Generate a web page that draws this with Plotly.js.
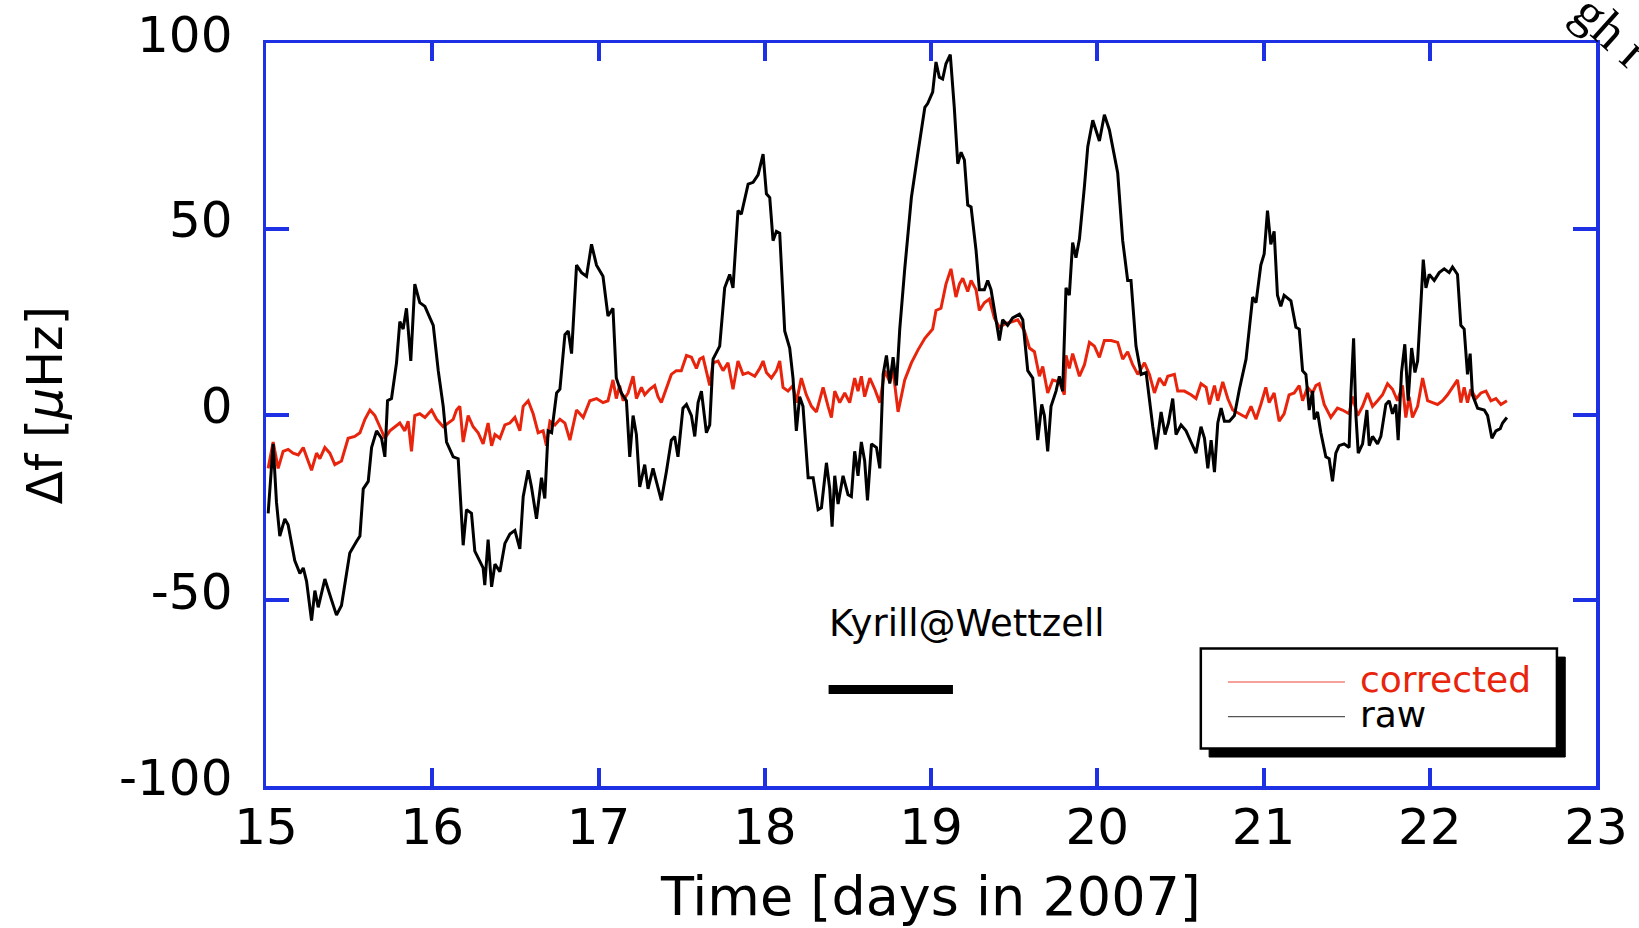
<!DOCTYPE html>
<html>
<head>
<meta charset="utf-8">
<script src="https://cdn.plot.ly/plotly-3.0.1.min.js"></script>
<style>
html,body{margin:0;padding:0;background:#fff;}
#chart{width:1639px;height:928px;}
</style>
</head>
<body>
<div id="chart"></div>
<script>
// ---- data (time in days of 2007, frequency offset in microHz) ----
const rawX = [15.013,15.043,15.063,15.083,15.113,15.133,15.173,15.204,15.224,15.244,15.274,15.294,15.314,15.354,15.394,15.424,15.454,15.504,15.544,15.565,15.585,15.615,15.635,15.665,15.695,15.715,15.731,15.755,15.785,15.805,15.825,15.845,15.871,15.895,15.925,15.956,15.986,16.006,16.036,16.066,16.086,16.126,16.156,16.186,16.206,16.236,16.256,16.306,16.316,16.336,16.357,16.377,16.407,16.437,16.467,16.497,16.527,16.547,16.577,16.597,16.627,16.657,16.677,16.697,16.718,16.748,16.768,16.798,16.818,16.838,16.868,16.898,16.928,16.958,16.988,
17.027,17.057,17.087,17.107,17.137,17.168,17.188,17.208,17.228,17.248,17.278,17.298,17.328,17.348,17.378,17.408,17.438,17.458,17.478,17.508,17.529,17.559,17.579,17.599,17.619,17.649,17.669,17.689,17.729,17.759,17.789,17.809,17.839,17.859,17.900,17.930,17.960,17.990,18.010,18.030,18.050,18.070,18.090,18.120,18.150,18.170,18.190,18.210,18.230,18.261,18.291,18.321,18.341,18.371,18.391,18.405,18.421,18.441,18.471,18.501,18.521,18.541,18.561,18.581,18.601,18.618,18.642,18.672,18.692,18.712,18.732,18.752,18.772,18.792,18.812,18.842,18.882,18.922,18.963,
18.980,19.010,19.030,19.050,19.070,19.090,19.116,19.140,19.161,19.181,19.201,19.221,19.241,19.271,19.291,19.321,19.341,19.361,19.391,19.411,19.431,19.461,19.491,19.532,19.552,19.582,19.612,19.642,19.666,19.682,19.702,19.722,19.752,19.772,19.792,19.812,19.832,19.852,19.872,19.893,19.923,19.943,19.973,20.013,20.043,20.073,20.123,20.153,20.183,20.203,20.233,20.264,20.294,20.314,20.334,20.354,20.384,20.408,20.428,20.454,20.474,20.504,20.534,20.564,20.594,20.624,20.645,20.665,20.685,20.705,20.725,20.745,20.765,20.795,20.825,20.855,20.895,20.935,20.955,
20.984,21.004,21.024,21.044,21.064,21.084,21.104,21.124,21.165,21.195,21.215,21.235,21.255,21.275,21.295,21.305,21.325,21.345,21.375,21.395,21.415,21.435,21.455,21.485,21.515,21.526,21.542,21.556,21.570,21.596,21.622,21.636,21.656,21.686,21.706,21.736,21.756,21.776,21.796,21.810,21.830,21.850,21.870,21.891,21.911,21.927,21.947,21.961,21.977,21.997,22.027,22.057,22.087,22.117,22.137,22.167,22.187,22.207,22.227,22.243,22.257,22.288,22.328,22.348,22.374,22.398,22.424,22.438,22.464];
const rawY = [-26.6,-7.9,-23.6,-32.7,-28.1,-29.7,-39.3,-42.8,-41.3,-44.9,-55.5,-47.4,-51.9,-44.3,-49.9,-54.0,-51.4,-37.3,-34.2,-32.7,-20.0,-18.0,-8.9,-4.4,-6.4,-11.4,3.7,4.3,13.9,25.0,23.0,28.6,14.4,35.1,30.1,29.1,26.0,24.0,11.8,2.2,-7.4,-11.4,-11.9,-35.2,-25.6,-26.6,-36.8,-41.3,-45.9,-33.7,-46.4,-40.3,-42.3,-34.7,-32.2,-31.2,-36.2,-22.1,-15.0,-19.5,-28.1,-17.0,-22.6,-4.4,-4.9,5.8,6.8,21.5,22.5,16.4,40.2,38.2,37.2,45.8,40.2,
37.2,26.5,28.6,9.8,5.8,3.7,-11.4,-0.3,-5.4,-19.5,-13.5,-20.0,-14.5,-18.0,-23.1,-15.5,-6.9,-5.9,-11.4,1.7,2.7,-0.3,-5.9,3.2,6.3,-4.9,-2.8,14.9,18.4,34.1,37.7,34.1,54.9,53.9,62.0,62.5,64.5,70.1,59.4,58.4,46.8,49.3,48.8,22.5,17.9,9.8,-4.4,4.8,2.2,-17.0,-17.0,-25.6,-25.1,-13.0,-20.0,-30.2,-16.5,-24.1,-16.5,-21.6,-22.1,-9.9,-16.5,-7.4,-12.5,-23.1,-7.9,-8.9,-14.5,10.8,15.9,8.3,15.4,7.8,23.0,39.2,58.4,70.6,82.7,
83.7,86.8,94.9,90.8,90.3,94.4,96.9,82.7,67.5,70.6,68.5,56.4,55.9,44.2,33.6,33.6,36.1,33.6,25.5,19.9,25.5,24.0,26.0,27.0,25.5,11.8,9.8,-6.9,2.7,-0.3,-9.9,2.2,6.3,10.3,6.3,34.1,32.1,46.3,42.2,47.3,61.5,72.1,79.2,73.6,80.7,76.6,65.0,46.8,36.1,36.1,18.4,10.8,11.3,3.2,-3.3,-9.4,0.7,-5.4,-2.3,4.3,-5.4,-2.8,-4.4,-7.4,-10.4,-3.3,-6.4,-14.5,-6.9,-15.5,-2.3,1.7,-1.8,-1.8,-0.3,6.8,14.9,31.6,30.1,
40.2,43.2,54.9,45.8,49.3,32.1,29.1,32.1,30.6,23.5,23.0,11.8,10.8,1.2,6.3,-1.3,0.7,-4.9,-11.4,-11.9,-18.0,-10.4,-8.4,-7.9,-8.9,5.8,20.5,-0.3,-10.4,-7.9,1.2,-8.4,-5.9,-7.9,-5.9,2.7,3.7,0.2,2.7,-6.9,11.3,18.9,3.7,17.9,11.3,14.4,30.1,41.7,34.1,37.7,36.1,38.2,39.2,38.2,39.7,37.7,24.0,23.0,10.8,16.4,5.3,1.7,1.2,-0.3,-6.4,-4.4,-3.8,-2.3,-0.8];

const corrX = [15.013,15.043,15.073,15.103,15.133,15.163,15.194,15.224,15.244,15.274,15.304,15.324,15.354,15.384,15.414,15.454,15.494,15.534,15.565,15.595,15.625,15.655,15.685,15.715,15.745,15.775,15.805,15.835,15.855,15.875,15.895,15.925,15.956,15.996,16.026,16.066,16.096,16.126,16.146,16.166,16.186,16.216,16.246,16.276,16.306,16.336,16.357,16.377,16.407,16.437,16.467,16.497,16.527,16.547,16.577,16.607,16.637,16.667,16.687,16.708,16.738,16.768,16.798,16.828,16.868,16.908,16.948,16.988,
17.027,17.057,17.087,17.107,17.127,17.148,17.178,17.208,17.228,17.258,17.278,17.308,17.338,17.358,17.378,17.408,17.438,17.468,17.498,17.529,17.559,17.589,17.609,17.629,17.649,17.669,17.689,17.719,17.749,17.779,17.809,17.839,17.869,17.900,17.940,17.970,17.990,18.010,18.040,18.070,18.090,18.110,18.140,18.170,18.190,18.220,18.250,18.281,18.311,18.351,18.381,18.401,18.421,18.451,18.481,18.511,18.541,18.561,18.581,18.601,18.632,18.662,18.692,18.722,18.752,18.772,18.802,18.842,18.882,18.922,18.963,
18.980,19.010,19.030,19.060,19.090,19.120,19.150,19.171,19.191,19.221,19.241,19.271,19.291,19.321,19.351,19.381,19.411,19.451,19.491,19.522,19.562,19.592,19.622,19.652,19.672,19.702,19.732,19.772,19.802,19.812,19.832,19.852,19.893,19.923,19.953,19.983,20.013,20.043,20.083,20.123,20.153,20.183,20.213,20.244,20.284,20.314,20.344,20.374,20.404,20.424,20.464,20.484,20.524,20.564,20.594,20.624,20.655,20.675,20.705,20.725,20.755,20.785,20.815,20.855,20.895,20.925,20.955,
20.984,21.014,21.034,21.064,21.094,21.124,21.154,21.185,21.215,21.235,21.265,21.295,21.315,21.335,21.365,21.405,21.445,21.475,21.515,21.536,21.566,21.596,21.626,21.656,21.686,21.716,21.746,21.776,21.806,21.836,21.856,21.876,21.896,21.927,21.957,21.987,22.017,22.047,22.077,22.107,22.137,22.167,22.187,22.207,22.227,22.247,22.278,22.308,22.338,22.368,22.398,22.428,22.464];
const corrY = [-14.5,-7.4,-14.5,-9.9,-9.4,-10.4,-10.9,-8.9,-11.4,-15.0,-10.4,-11.9,-8.9,-10.4,-13.5,-12.5,-6.4,-5.9,-4.9,-1.3,1.2,-0.3,-3.3,-6.4,-4.4,-3.3,-2.3,-4.4,-1.8,-9.9,-0.3,0.2,-0.8,1.2,-1.3,-3.3,-2.3,-1.3,1.2,2.2,-7.4,-0.3,-3.3,-4.9,-7.9,-2.3,-8.4,-5.4,-6.4,-2.8,-2.3,-0.8,-4.4,2.2,3.7,0.2,-4.9,-4.4,-8.4,-1.8,-2.8,-1.3,-2.3,-6.9,1.2,-0.8,3.7,4.3,
3.2,3.7,9.3,4.3,7.8,3.7,5.8,10.3,4.3,7.3,5.3,6.8,7.8,4.8,3.2,7.3,10.8,11.8,11.8,15.9,15.4,12.4,14.9,15.4,11.3,7.8,13.9,14.4,11.8,13.9,6.8,14.4,10.8,11.3,10.3,12.4,14.4,11.3,9.8,11.8,14.4,7.3,6.3,7.8,3.2,9.8,5.3,2.2,0.7,7.3,2.2,-0.8,6.3,3.2,5.8,3.2,9.8,6.3,10.3,4.8,9.8,6.8,3.2,11.8,8.8,11.8,0.7,9.3,13.9,17.4,20.5,
21.5,23.0,28.0,28.6,35.1,39.2,31.6,35.1,36.7,33.1,36.1,33.6,28.0,30.1,31.1,26.0,23.5,24.5,25.0,25.5,22.5,17.9,16.9,10.3,12.9,5.8,9.3,8.8,5.3,15.9,12.4,16.4,10.3,13.4,19.4,18.4,15.4,19.9,19.9,19.4,14.9,16.9,13.4,10.8,13.9,10.8,5.8,9.8,7.8,10.3,10.8,6.3,6.3,5.3,4.3,8.3,7.3,2.7,7.8,3.7,8.8,4.3,1.2,0.2,-0.8,2.2,-1.3,
2.7,7.3,3.2,5.8,-1.8,0.2,5.3,5.8,7.8,3.7,7.3,5.8,7.8,8.3,2.7,-0.8,1.7,1.2,0.2,4.8,-0.3,2.2,5.8,2.2,3.7,5.3,8.3,6.8,3.7,7.8,-0.8,4.8,-0.8,2.2,9.8,3.7,3.2,2.7,3.7,5.3,7.3,9.3,3.2,7.3,3.2,6.8,4.3,5.8,6.3,3.7,4.3,2.7,3.7];

// scale bar below the station label
const barX = [18.384, 19.132];
const barY = [-74, -74];

const seriesNames = ['corrected', 'raw'];
const xTicks = [15,16,17,18,19,20,21,22,23];
const yTicks = [-100,-50,0,50,100];

const BLUE = 'rgb(30,48,228)';
const RED = 'rgb(232,36,12)';
const FONT = 'DejaVu Sans, Liberation Sans, Arial, sans-serif';

const traces = [
  {x: corrX, y: corrY, type: 'scatter', mode: 'lines', name: seriesNames[0],
   line: {color: RED, width: 3}, showlegend: false, hoverinfo: 'skip'},
  {x: rawX, y: rawY, type: 'scatter', mode: 'lines', name: seriesNames[1],
   line: {color: '#000', width: 3}, showlegend: false, hoverinfo: 'skip'},
  {x: barX, y: barY, type: 'scatter', mode: 'lines', line: {color: '#000', width: 9},
   showlegend: false, hoverinfo: 'skip'}
];

// hand-made legend box (with drop shadow) in data coordinates
const lg = {x0: 20.623, x1: 22.765, y0: -63.0, y1: -89.9, dx: 0.05, dy: 2.3};
const shapes = [
  {type: 'rect', xref: 'x', yref: 'y', x0: lg.x0 + lg.dx, x1: lg.x1 + lg.dx, y0: lg.y0 - lg.dy, y1: lg.y1 - lg.dy,
   fillcolor: '#000', line: {color: '#000', width: 1}},
  {type: 'rect', xref: 'x', yref: 'y', x0: lg.x0, x1: lg.x1, y0: lg.y0, y1: lg.y1,
   fillcolor: '#fff', line: {color: '#000', width: 2.5}},
  {type: 'line', xref: 'x', yref: 'y', x0: 20.786, x1: 21.49, y0: -72.0, y1: -72.0,
   line: {color: 'rgb(245,130,120)', width: 1.3}},
  {type: 'line', xref: 'x', yref: 'y', x0: 20.786, x1: 21.49, y0: -81.3, y1: -81.3,
   line: {color: '#555', width: 1.3}}
];

const annotations = [
  {xref: 'x', yref: 'y', x: 21.57, y: -71.4, xanchor: 'left', yanchor: 'middle', showarrow: false,
   text: seriesNames[0], font: {family: FONT, size: 36, color: RED}},
  {xref: 'x', yref: 'y', x: 21.57, y: -80.8, xanchor: 'left', yanchor: 'middle', showarrow: false,
   text: seriesNames[1], font: {family: FONT, size: 36, color: '#000'}},
  {xref: 'x', yref: 'y', x: 19.214, y: -56.3, xanchor: 'center', yanchor: 'middle', showarrow: false,
   text: 'Kyrill@Wettzell', font: {family: FONT, size: 37, color: '#000'}},
  {xref: 'paper', yref: 'paper', x: -0.1651, y: 0.5128, xanchor: 'center', yanchor: 'middle', showarrow: false,
   text: 'Δf [<i>μ</i>Hz]', textangle: -90, font: {family: FONT, size: 49, color: '#000'}},
  {xref: 'paper', yref: 'paper', x: 1.012, y: 1.016, xanchor: 'center', yanchor: 'middle', showarrow: false,
   text: 'gh r', textangle: 42, font: {family: 'Liberation Serif, Times New Roman, serif', size: 52, color: '#000'}}
];

const layout = {
  width: 1639, height: 928,
  margin: {l: 266, r: 43, t: 43, b: 142, pad: 0},
  paper_bgcolor: '#fff', plot_bgcolor: '#fff',
  font: {family: FONT, color: '#000'},
  xaxis: {
    range: [15, 23], tickvals: xTicks, ticktext: xTicks.map(String),
    ticks: 'inside', ticklen: 18, tickwidth: 4, tickcolor: BLUE,
    showline: true, linecolor: BLUE, linewidth: 3.5, mirror: 'ticks',
    showgrid: false, zeroline: false,
    tickfont: {family: FONT, size: 50, color: '#000'},
    ticklabelstandoff: -6,
    title: {text: 'Time [days in 2007]', font: {family: FONT, size: 54, color: '#000'}, standoff: 28}
  },
  yaxis: {
    range: [-100, 100], tickvals: yTicks, ticktext: yTicks.map(String),
    ticks: 'inside', ticklen: 23, tickwidth: 4, tickcolor: BLUE,
    showline: true, linecolor: BLUE, linewidth: 3.5, mirror: 'ticks',
    showgrid: false, zeroline: false,
    tickfont: {family: FONT, size: 50, color: '#000'},
    ticklabelstandoff: 20, ticklabelshift: -9
  },
  shapes: shapes,
  annotations: annotations,
  showlegend: false
};

Plotly.newPlot('chart', traces, layout, {displayModeBar: false, staticPlot: true});
</script>
</body>
</html>
